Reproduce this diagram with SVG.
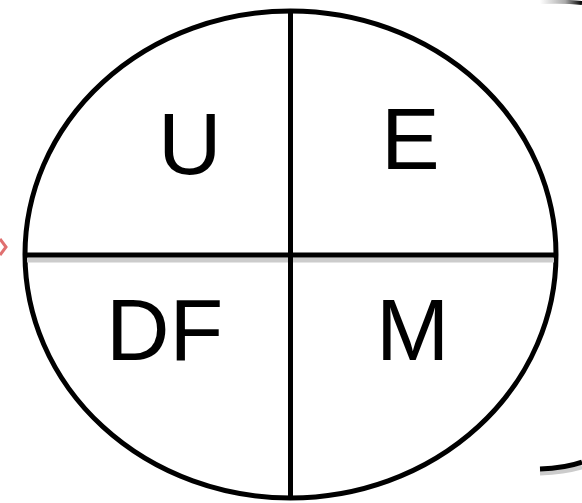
<svg xmlns="http://www.w3.org/2000/svg" width="582" height="503" viewBox="0 0 582 503">
<defs>
<linearGradient id="topfade" x1="0" y1="0" x2="1" y2="0">
<stop offset="0" stop-color="#ffffff"/>
<stop offset="0.6" stop-color="#aaaaaa"/>
<stop offset="1" stop-color="#000000"/>
</linearGradient>
</defs>
<style>
.ln{stroke:#000;stroke-width:5;fill:none}
.sh{stroke:#cccccc;stroke-width:5;fill:none}
.lbl{font-family:"Liberation Sans",Arial,sans-serif;font-size:88px;fill:#000}
</style>
<rect width="582" height="503" fill="#fff"/>
<g id="decor">
<polyline points="0,239 6,247 0,255" fill="none" stroke="#e07070" stroke-width="3"/>
<path d="M540,2 Q565,1 582,3" fill="none" stroke="url(#topfade)" stroke-width="4"/>
<path d="M540,473 Q565,472 582,467" class="sh"/>
<path d="M540,469 Q565,468 582,462" class="ln"/>
</g>
<g id="circle">
<ellipse cx="290.5" cy="254.5" rx="265.5" ry="243.5" class="ln"/>
</g>
<g id="connectors">
<line x1="27" y1="260" x2="554" y2="260" class="sh"/>
<line x1="25" y1="255" x2="556" y2="255" class="ln"/>
<line x1="290.5" y1="11" x2="290.5" y2="498" class="ln"/>
</g>
<g id="U"><text x="158" y="174" class="lbl">U</text></g>
<g id="E"><text x="381" y="169" class="lbl">E</text></g>
<g id="DF"><text x="106" y="360" class="lbl">DF</text></g>
<g id="M"><text x="376" y="360" class="lbl">M</text></g>
</svg>
